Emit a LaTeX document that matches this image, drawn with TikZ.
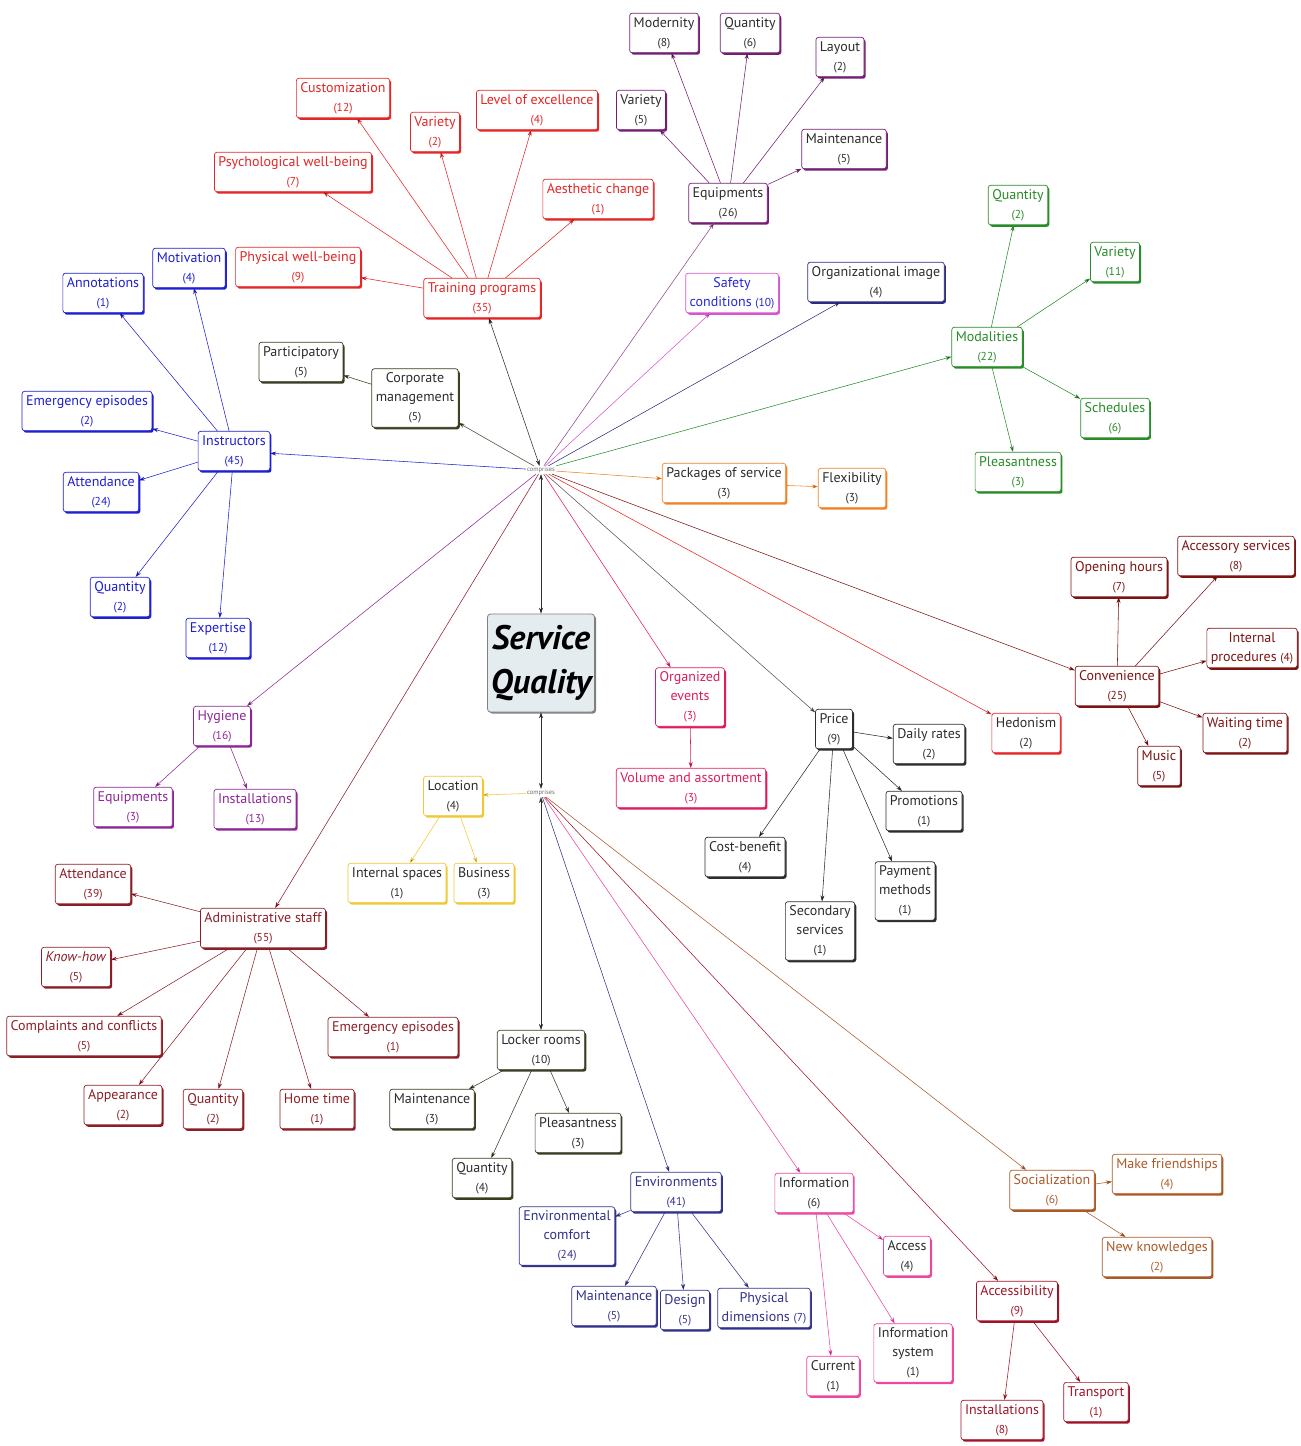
\documentclass[tikz,border=0pt]{standalone}
\usepackage{fontspec}
\setmainfont{PT Sans}
\usetikzlibrary{arrows.meta,shadows}

\definecolor{cDark}{RGB}{45,45,45}
\definecolor{cRed}{RGB}{228,38,38}
\definecolor{cPurple}{RGB}{115,30,115}
\definecolor{cViolet}{RGB}{215,85,205}
\definecolor{cSafe}{RGB}{40,40,215}
\definecolor{cNavy}{RGB}{45,45,125}
\definecolor{cGreen}{RGB}{40,140,40}
\definecolor{cOrange}{RGB}{240,130,40}
\definecolor{cBlue}{RGB}{30,30,210}
\definecolor{cOlive}{RGB}{60,60,35}
\definecolor{cHyg}{RGB}{140,40,150}
\definecolor{cAdmin}{RGB}{140,30,40}
\definecolor{cYellow}{RGB}{240,200,50}
\definecolor{cCrimson}{RGB}{220,30,90}
\definecolor{cConv}{RGB}{125,20,20}
\definecolor{cEnv}{RGB}{50,50,140}
\definecolor{cPink}{RGB}{235,70,160}
\definecolor{cSocial}{RGB}{170,90,40}
\definecolor{cAcc}{RGB}{160,20,40}
\definecolor{cCore}{RGB}{228,236,240}

\newcommand{\cnt}[1]{{\fontsize{11.5}{12}\selectfont(#1)}}

\tikzset{
  cbox/.style 2 args={draw=#1, text=#2, fill=white, rounded corners=2.5pt,
    line width=0.7pt, align=center, inner xsep=4pt, inner ysep=4pt,
    font=\fontsize{14}{19}\selectfont,
    drop shadow={shadow xshift=1.6pt, shadow yshift=-2pt, fill=#1, opacity=1}},
  link/.style={draw=#1, line width=0.55pt, -{Stealth[length=6pt,width=4pt]}},
  blink/.style={draw=#1, line width=0.55pt,
    {Stealth[length=6pt,width=4pt]}-{Stealth[length=6pt,width=4pt]}},
  hub/.style={font=\fontsize{6.5}{7}\selectfont, text=cDark!70, inner sep=1pt},
  core/.style={draw=gray, fill=cCore, rounded corners=3pt, line width=0.8pt,
    align=center, minimum width=107pt, minimum height=98pt, inner sep=1pt,
    font=\fontsize{34}{44}\selectfont\bfseries\itshape,
    drop shadow={shadow xshift=1.5pt, shadow yshift=-1.5pt, fill=gray, opacity=1}}
}

\begin{document}
\begin{tikzpicture}[x=1pt,y=-1pt]
\useasboundingbox (0,0) rectangle (1301,1446);

\node[core] (sq) at (541,663) {Service\\Quality};
\node[hub] (hub1) at (541,470) {comprises};
\node[hub] (hub2) at (541,793) {comprises};

\node[cbox={cRed}{cRed}] (tp) at (482,298) {Training programs\\\cnt{35}};
\node[cbox={cRed}{cRed}] (tcust) at (343,98) {Customization\\\cnt{12}};
\node[cbox={cRed}{cRed}] (tvar) at (435,132) {Variety\\\cnt{2}};
\node[cbox={cRed}{cRed}] (tlev) at (537,110) {Level of excellence\\\cnt{4}};
\node[cbox={cRed}{cRed}] (tpsy) at (293,172) {Psychological well-being\\\cnt{7}};
\node[cbox={cRed}{cRed}] (taes) at (598,199) {Aesthetic change\\\cnt{1}};
\node[cbox={cRed}{cRed}] (tphy) at (298,267) {Physical well-being\\\cnt{9}};

\node[cbox={cPurple}{cDark}] (eq) at (728,203) {Equipments\\\cnt{26}};
\node[cbox={cPurple}{cDark}] (eqmod) at (664,33) {Modernity\\\cnt{8}};
\node[cbox={cPurple}{cDark}] (eqqua) at (750,33) {Quantity\\\cnt{6}};
\node[cbox={cPurple}{cDark}] (eqlay) at (840,57) {Layout\\\cnt{2}};
\node[cbox={cPurple}{cDark}] (eqvar) at (641,110) {Variety\\\cnt{5}};
\node[cbox={cPurple}{cDark}] (eqmai) at (844,149) {Maintenance\\\cnt{5}};

\node[cbox={cViolet}{cSafe}] (safe) at (732,293) {Safety\\conditions \cnt{10}};
\node[cbox={cNavy}{cDark}] (org) at (876,282) {Organizational image\\\cnt{4}};

\node[cbox={cGreen}{cGreen}] (mod) at (987,347) {Modalities\\\cnt{22}};
\node[cbox={cGreen}{cGreen}] (mqua) at (1018,205) {Quantity\\\cnt{2}};
\node[cbox={cGreen}{cGreen}] (mvar) at (1115,262) {Variety\\\cnt{11}};
\node[cbox={cGreen}{cGreen}] (msch) at (1115,418) {Schedules\\\cnt{6}};
\node[cbox={cGreen}{cGreen}] (mple) at (1018,472) {Pleasantness\\\cnt{3}};

\node[cbox={cOrange}{cDark}] (pack) at (724,483) {Packages of service\\\cnt{3}};
\node[cbox={cOrange}{cDark}] (flex) at (852,488) {Flexibility\\\cnt{3}};

\node[cbox={cConv}{cConv}] (conv) at (1117,686) {Convenience\\\cnt{25}};
\node[cbox={cConv}{cConv}] (copen) at (1119,577) {Opening hours\\\cnt{7}};
\node[cbox={cConv}{cConv}] (cacc) at (1236,556) {Accessory services\\\cnt{8}};
\node[cbox={cConv}{cConv}] (cint) at (1252,648) {Internal\\procedures \cnt{4}};
\node[cbox={cConv}{cConv}] (cwait) at (1245,733) {Waiting time\\\cnt{2}};
\node[cbox={cConv}{cConv}] (cmus) at (1159,766) {Music\\\cnt{5}};

\node[cbox={cRed}{cDark}] (hed) at (1026,733) {Hedonism\\\cnt{2}};

\node[cbox={cDark}{cDark}] (price) at (834,729) {Price\\\cnt{9}};
\node[cbox={cDark}{cDark}] (pday) at (929,744) {Daily rates\\\cnt{2}};
\node[cbox={cDark}{cDark}] (ppro) at (924,811) {Promotions\\\cnt{1}};
\node[cbox={cDark}{cDark}] (ppay) at (905,891) {Payment\\methods\\\cnt{1}};
\node[cbox={cDark}{cDark}] (pcos) at (745,857) {Cost-benefit\\\cnt{4}};
\node[cbox={cDark}{cDark}] (psec) at (820,931) {Secondary\\services\\\cnt{1}};

\node[cbox={cCrimson}{cCrimson}] (oev) at (690,697) {Organized\\events\\\cnt{3}};
\node[cbox={cCrimson}{cCrimson}] (vol) at (691,788) {Volume and assortment\\\cnt{3}};

\node[cbox={cBlue}{cBlue}] (ins) at (234,451) {Instructors\\\cnt{45}};
\node[cbox={cBlue}{cBlue}] (iann) at (103,293) {Annotations\\\cnt{1}};
\node[cbox={cBlue}{cBlue}] (imot) at (189,268) {Motivation\\\cnt{4}};
\node[cbox={cBlue}{cBlue}] (iemg) at (87,411) {Emergency episodes\\\cnt{2}};
\node[cbox={cBlue}{cBlue}] (iatt) at (101,492) {Attendance\\\cnt{24}};
\node[cbox={cBlue}{cBlue}] (iqua) at (120,597) {Quantity\\\cnt{2}};
\node[cbox={cBlue}{cBlue}] (iexp) at (218,638) {Expertise\\\cnt{12}};

\node[cbox={cOlive}{cDark}] (corp) at (415,398) {Corporate\\management\\\cnt{5}};
\node[cbox={cOlive}{cDark}] (part) at (301,362) {Participatory\\\cnt{5}};

\node[cbox={cHyg}{cHyg}] (hyg) at (222,726) {Hygiene\\\cnt{16}};
\node[cbox={cHyg}{cHyg}] (hequ) at (133,807) {Equipments\\\cnt{3}};
\node[cbox={cHyg}{cHyg}] (hins) at (255,809) {Installations\\\cnt{13}};

\node[cbox={cAdmin}{cAdmin}] (adm) at (263,928) {Administrative staff\\\cnt{55}};
\node[cbox={cAdmin}{cAdmin}] (aatt) at (93,884) {Attendance\\\cnt{39}};
\node[cbox={cAdmin}{cAdmin}] (akno) at (76,967) {\textit{Know-how}\\\cnt{5}};
\node[cbox={cAdmin}{cAdmin}] (acom) at (84,1036) {Complaints and conflicts\\\cnt{5}};
\node[cbox={cAdmin}{cAdmin}] (aemg) at (393,1037) {Emergency episodes\\\cnt{1}};
\node[cbox={cAdmin}{cAdmin}] (aapp) at (123,1105) {Appearance\\\cnt{2}};
\node[cbox={cAdmin}{cAdmin}] (aqua) at (213,1109) {Quantity\\\cnt{2}};
\node[cbox={cAdmin}{cAdmin}] (ahom) at (317,1109) {Home time\\\cnt{1}};

\node[cbox={cYellow}{cDark}] (loc) at (453,796) {Location\\\cnt{4}};
\node[cbox={cYellow}{cDark}] (lint) at (397,883) {Internal spaces\\\cnt{1}};
\node[cbox={cYellow}{cDark}] (lbus) at (484,883) {Business\\\cnt{3}};

\node[cbox={cOlive}{cDark}] (lock) at (541,1050) {Locker rooms\\\cnt{10}};
\node[cbox={cOlive}{cDark}] (kmai) at (432,1109) {Maintenance\\\cnt{3}};
\node[cbox={cOlive}{cDark}] (kple) at (578,1133) {Pleasantness\\\cnt{3}};
\node[cbox={cOlive}{cDark}] (kqua) at (482,1178) {Quantity\\\cnt{4}};

\node[cbox={cEnv}{cEnv}] (env) at (676,1192) {Environments\\\cnt{41}};
\node[cbox={cEnv}{cEnv}] (ecom) at (567,1236) {Environmental\\comfort\\\cnt{24}};
\node[cbox={cEnv}{cEnv}] (emai) at (614,1306) {Maintenance\\\cnt{5}};
\node[cbox={cEnv}{cEnv}] (edes) at (685,1310) {Design\\\cnt{5}};
\node[cbox={cEnv}{cEnv}] (ephy) at (764,1308) {Physical\\dimensions \cnt{7}};

\node[cbox={cPink}{cDark}] (info) at (814,1193) {Information\\\cnt{6}};
\node[cbox={cPink}{cDark}] (nacc) at (907,1256) {Access\\\cnt{4}};
\node[cbox={cPink}{cDark}] (nsys) at (913,1353) {Information\\system\\\cnt{1}};
\node[cbox={cPink}{cDark}] (ncur) at (833,1376) {Current\\\cnt{1}};

\node[cbox={cSocial}{cSocial}] (soc) at (1052,1190) {Socialization\\\cnt{6}};
\node[cbox={cSocial}{cSocial}] (sfri) at (1167,1174) {Make friendships\\\cnt{4}};
\node[cbox={cSocial}{cSocial}] (skno) at (1157,1257) {New knowledges\\\cnt{2}};

\node[cbox={cAcc}{cAcc}] (acc) at (1017,1301) {Accessibility\\\cnt{9}};
\node[cbox={cAcc}{cAcc}] (xins) at (1002,1420) {Installations\\\cnt{8}};
\node[cbox={cAcc}{cAcc}] (xtra) at (1096,1402) {Transport\\\cnt{1}};

\path[blink=cDark] (hub1) edge (sq) edge (tp);
\path[blink=cDark] (sq) edge (hub2);
\path[blink=cDark] (hub2) edge (lock);
\path[link=cOlive] (hub1) edge (corp);
\path[link=cBlue] (hub1) edge (ins);
\path[link=cPurple!80] (hub1) edge (eq);
\path[link=cViolet] (hub1) edge (safe);
\path[link=cNavy] (hub1) edge (org);
\path[link=cGreen] (hub1) edge (mod);
\path[link=cOrange] (hub1) edge (pack);
\path[link=cConv] (hub1) edge (conv);
\path[link=cRed] (hub1) edge (hed);
\path[link=cDark!80] (hub1) edge (price);
\path[link=cCrimson] (hub1) edge (oev);
\path[link=cHyg] (hub1) edge (hyg);
\path[link=cAdmin] (hub1) edge (adm);
\path[link=cYellow] (hub2) edge (loc);
\path[link=cEnv] (hub2) edge (env);
\path[link=cPink] (hub2) edge (info);
\path[link=cAcc] (hub2) edge (acc);
\path[link=cSocial] (hub2) edge (soc);

\path[link=cRed] (tp) edge (tcust) edge (tvar) edge (tlev) edge (tpsy) edge (taes) edge (tphy);
\path[link=cPurple] (eq) edge (eqmod) edge (eqqua) edge (eqlay) edge (eqvar) edge (eqmai);
\path[link=cGreen] (mod) edge (mqua) edge (mvar) edge (msch) edge (mple);
\path[link=cOrange] (pack) edge (flex);
\path[link=cConv] (conv) edge (copen) edge (cacc) edge (cint) edge (cwait) edge (cmus);
\path[link=cDark] (price) edge (pday) edge (ppro) edge (ppay) edge (pcos) edge (psec);
\path[link=cCrimson] (oev) edge (vol);
\path[link=cBlue] (ins) edge (iann) edge (imot) edge (iemg) edge (iatt) edge (iqua) edge (iexp);
\path[link=cOlive] (corp) edge (part);
\path[link=cHyg] (hyg) edge (hequ) edge (hins);
\path[link=cAdmin] (adm) edge (aatt) edge (akno) edge (acom) edge (aemg) edge (aapp) edge (aqua) edge (ahom);
\path[link=cYellow] (loc) edge (lint) edge (lbus);
\path[link=cOlive] (lock) edge (kmai) edge (kple) edge (kqua);
\path[link=cEnv] (env) edge (ecom) edge (emai) edge (edes) edge (ephy);
\path[link=cPink] (info) edge (nacc) edge (nsys) edge (ncur);
\path[link=cSocial] (soc) edge (sfri) edge (skno);
\path[link=cAcc] (acc) edge (xins) edge (xtra);
\end{tikzpicture}
\end{document}
